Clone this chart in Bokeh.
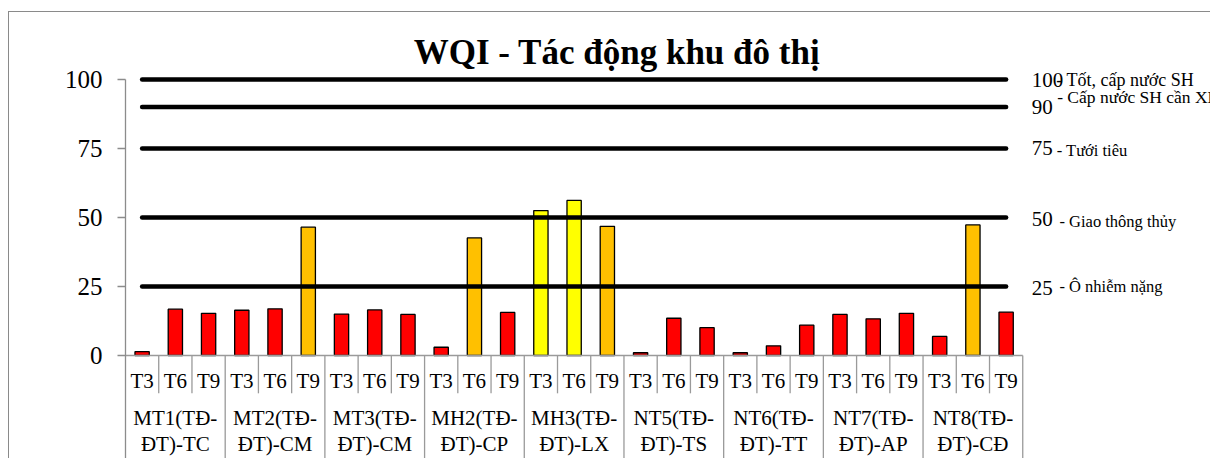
from bokeh.plotting import figure
from bokeh.models import Range1d, FixedTicker, Label, ColumnDataSource
from bokeh.embed import file_html
from bokeh.resources import INLINE
from bokeh.core.properties import value

# ---------------- data ----------------
title = "WQI - Tác động khu đô thị"
groups = ["MT1(TĐ-ĐT)-TC", "MT2(TĐ-ĐT)-CM", "MT3(TĐ-ĐT)-CM", "MH2(TĐ-ĐT)-CP",
          "MH3(TĐ-ĐT)-LX", "NT5(TĐ-ĐT)-TS", "NT6(TĐ-ĐT)-TT", "NT7(TĐ-ĐT)-AP",
          "NT8(TĐ-ĐT)-CĐ"]
periods = ["T3", "T6", "T9"]
wqi_t3 = [1.4, 16.4, 15.0, 3.0, 52.5, 1.0, 1.0, 14.9, 6.9]
wqi_t6 = [16.8, 16.9, 16.5, 42.6, 56.2, 13.5, 3.5, 13.3, 47.3]
wqi_t9 = [15.3, 46.5, 14.9, 15.6, 46.8, 10.1, 11.0, 15.3, 15.7]
thresholds = [100, 90, 75, 50, 25]
threshold_texts = ["- Tốt, cấp nước SH", "- Cấp nước SH cần XL", "- Tưới tiêu",
                   "- Giao thông thủy", "- Ô nhiễm nặng"]
y_ticks = [0, 25, 50, 75, 100]

FONT = "Liberation Serif"
RED, ORANGE, YELLOW, GREEN, BLUE = "#FF0000", "#FFC000", "#FFFF00", "#00B050", "#0070C0"


def wqi_color(v):
    if v <= 25:
        return RED
    if v <= 50:
        return ORANGE
    if v <= 75:
        return YELLOW
    if v <= 90:
        return GREEN
    return BLUE


xs, vals, plabels = [], [], []
series = [wqi_t3, wqi_t6, wqi_t9]
for gi in range(len(groups)):
    for pi in range(len(periods)):
        idx = gi * len(periods) + pi
        xs.append(idx + 0.5)
        vals.append(series[pi][gi])
        plabels.append(periods[pi])
n_cat = len(xs)

Y_BOTTOM = -37.68
Y_TOP = 124.28
X_END = 32.68

p = figure(width=1202, height=447, output_backend="svg", toolbar_location=None,
           x_range=Range1d(0, X_END), y_range=Range1d(Y_BOTTOM, Y_TOP),
           min_border_left=116, min_border_right=0, min_border_top=0,
           min_border_bottom=0, title=None)
p.styles = {"margin-left": "8px", "margin-top": "11px",
            "border-left": "1px solid #8a8a8a", "border-top": "1px solid #8a8a8a"}
p.background_fill_color = "white"
p.border_fill_color = "white"
p.outline_line_color = None
p.xgrid.visible = False
p.ygrid.visible = False
p.xaxis.visible = False

ax = p.yaxis[0]
ax.ticker = FixedTicker(ticks=y_ticks)
ax.bounds = (Y_BOTTOM, 100)
ax.axis_line_color = "#8c8c8c"
ax.axis_line_width = 1.3
ax.major_tick_line_color = "#8c8c8c"
ax.major_tick_line_width = 1.3
ax.major_tick_out = 8
ax.major_tick_in = 0
ax.minor_tick_line_color = None
ax.major_label_standoff = 15
ax.major_label_text_font = FONT
ax.major_label_text_font_size = "25px"
ax.major_label_text_color = "black"

# bars
src = ColumnDataSource(dict(x=xs, top=vals, color=[wqi_color(v) for v in vals]))
p.vbar(x="x", top="top", bottom=0, width=0.43, source=src,
       fill_color="color", line_color="black", line_width=1.3)

# threshold lines
p.multi_line(xs=[[xs[0], xs[-1]] for _ in thresholds],
             ys=[[t, t] for t in thresholds],
             line_color="black", line_width=4.5, line_cap="round")

# category table lines
inner = [k for k in range(1, n_cat) if k % len(periods)]
outer = [k for k in range(len(periods), n_cat + 1, len(periods))]
p.segment(x0=[0], y0=[0], x1=[n_cat], y1=[0], line_color="#9a9a9a", line_width=1.3)
p.segment(x0=inner, y0=[0] * len(inner), x1=inner, y1=[-13.7] * len(inner),
          line_color="#9a9a9a", line_width=1.3)
p.segment(x0=outer, y0=[0] * len(outer), x1=outer, y1=[Y_BOTTOM] * len(outer),
          line_color="#9a9a9a", line_width=1.3)

# category labels
p.text(x=xs, y=[-9.1] * n_cat, text=plabels, text_font=value(FONT),
       text_font_size="21px", text_align="center", text_baseline="middle",
       text_color="black")
gx = [gi * len(periods) + len(periods) / 2 for gi in range(len(groups))]
line1 = [g.split("-", 1)[0] + "-" for g in groups]
line2 = [g.split("-", 1)[1] for g in groups]
p.text(x=gx, y=[-22.8] * len(groups), text=line1, text_font=value(FONT),
       text_font_size="21px", text_align="center", text_baseline="middle",
       text_color="black")
p.text(x=gx, y=[-31.9] * len(groups), text=line2, text_font=value(FONT),
       text_font_size="21px", text_align="center", text_baseline="middle",
       text_color="black")

# right-hand threshold labels
num_dy = [-0.3, 0.0, 0.2, -0.6, -0.6]
txt_dy = [0.0, 3.5, -0.6, -1.3, 0.0]
txt_dx = [33.5, 34.4, 34.0, 36.7, 36.7]
txt_size = ["18px", "17.5px", "16.5px", "16.5px", "16.5px"]
for t, lab, ndy, tdy, tdx, ts in zip(thresholds, threshold_texts, num_dy, txt_dy,
                                     txt_dx, txt_size):
    p.add_layout(Label(x=n_cat, y=t + ndy, x_offset=9, text=str(t),
                       text_font=FONT, text_font_size="21px",
                       text_baseline="middle", text_color="black"))
    p.add_layout(Label(x=n_cat, y=t + tdy, x_offset=tdx, text=lab,
                       text_font=FONT, text_font_size=ts,
                       text_baseline="middle", text_color="black"))

# title
p.add_layout(Label(x=14.79, y=109.7, text=title, text_font=FONT,
                   text_font_size="35px", text_font_style="bold",
                   text_align="center", text_baseline="middle",
                   text_color="black"))

open("out.html", "w").write(file_html(p, INLINE))
